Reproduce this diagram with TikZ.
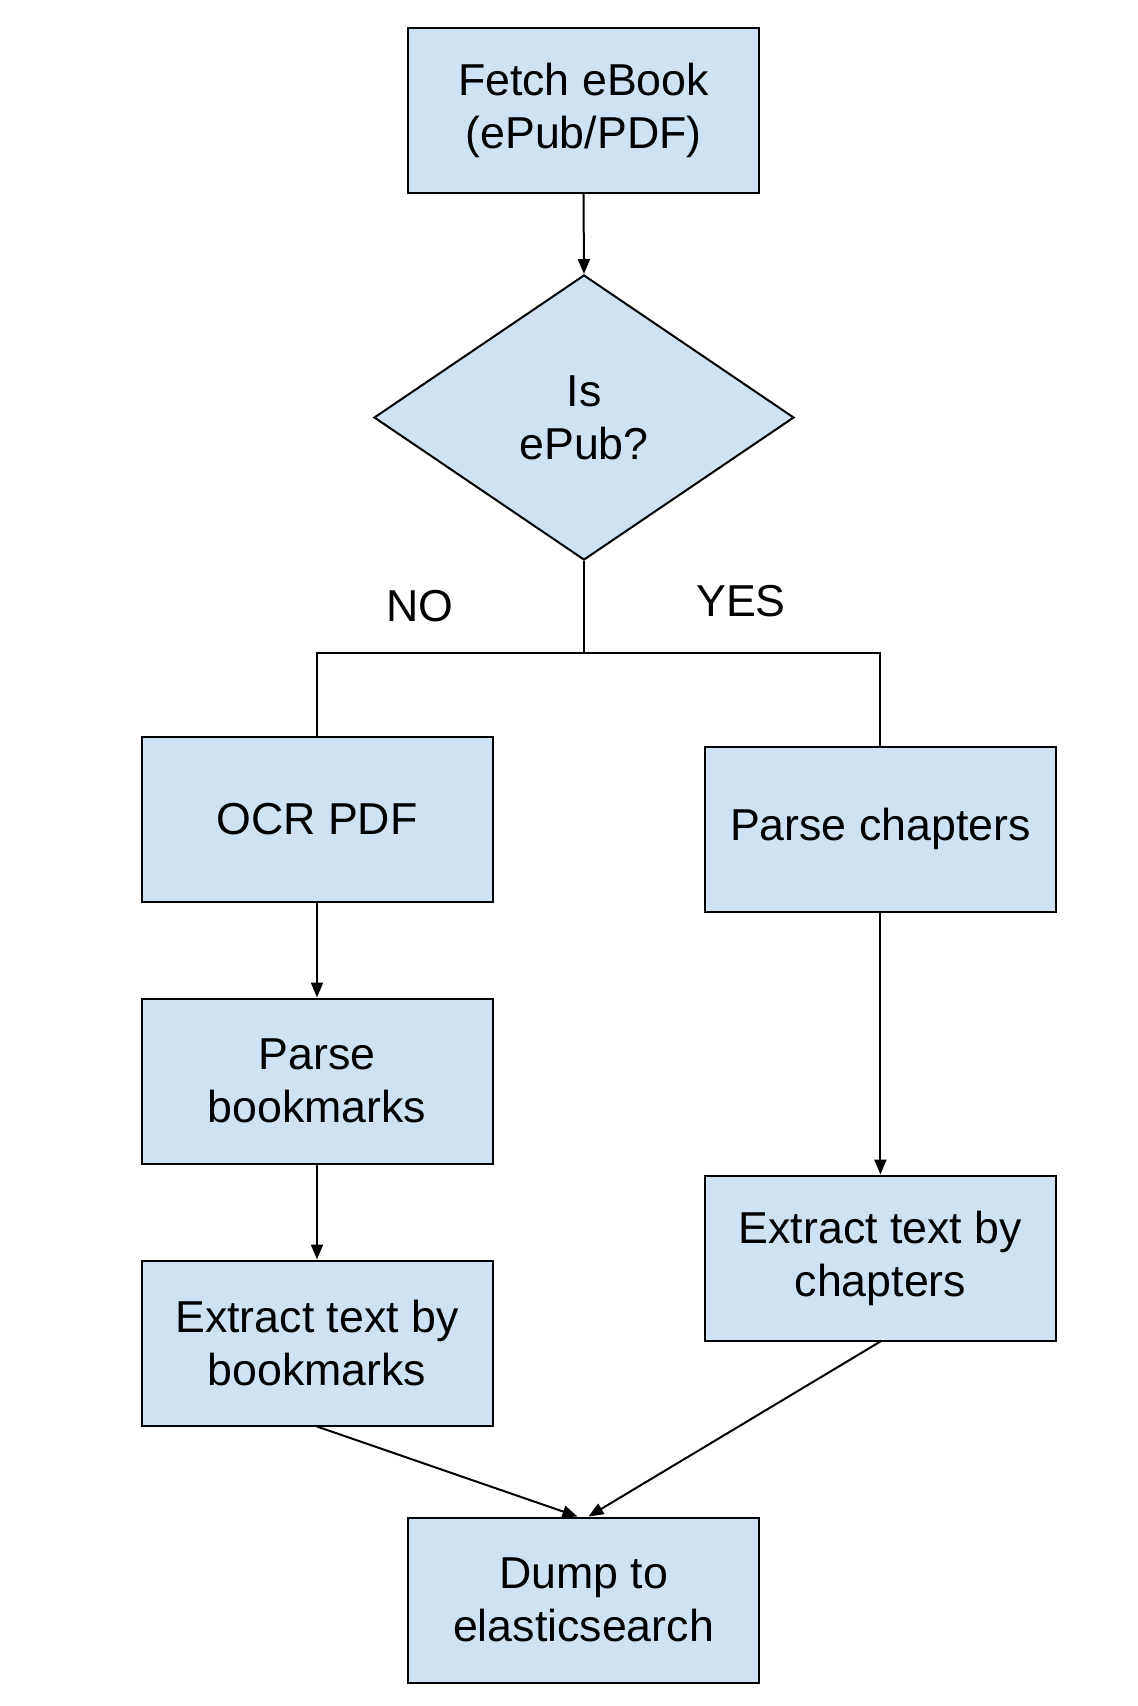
\documentclass[tikz,border=0pt]{standalone}
\usepackage{fontspec}
\setmainfont{Liberation Sans}
\usetikzlibrary{shapes.geometric,arrows.meta,calc}
\definecolor{boxfill}{HTML}{CFE2F3}
\begin{document}
\begin{tikzpicture}[x=1pt,y=-1pt,
  every node/.style={font=\fontsize{44.7}{53}\selectfont},
  procbox/.style={draw=black,line width=2pt,fill=boxfill,rectangle,minimum width=351pt,minimum height=165pt,align=center,inner sep=0pt},
  decbox/.style={draw=black,line width=2pt,fill=boxfill,diamond,minimum width=420pt,minimum height=285pt,align=center,inner sep=0pt},
  conn/.style={line width=2pt,draw=black},
  arr/.style={conn,-{Triangle[width=12pt,length=15pt]}},
  lbl/.style={inner sep=0pt}]
\useasboundingbox (0,0) rectangle (1138,1706);
\node[procbox] (fetch) at (583.5,110) {Fetch eBook\\(ePub/PDF)};
\node[decbox] (dec) at (584,417.5) {Is\\ePub?};
\node[procbox] (ocr) at (317,819) {OCR PDF};
\node[procbox] (pbm) at (317,1081) {Parse\\bookmarks};
\node[procbox] (ebm) at (317,1343) {Extract text by\\bookmarks};
\node[procbox] (pch) at (880.4,829) {Parse chapters};
\node[procbox] (ech) at (880.4,1258) {Extract text by\\chapters};
\node[procbox] (dump) at (583.5,1600) {Dump to\\elasticsearch};
\node[lbl] (no) at (420,606) {NO};
\node[lbl] (yes) at (741,601) {YES};
\coordinate (j) at (584,653);
\draw[arr] (fetch.south) -- (dec.north);
\draw[conn] (dec.south) -- (j) -| (ocr.north);
\draw[conn] (j) -| (pch.north);
\draw[arr] (ocr.south) -- (pbm.north);
\draw[arr] (pbm.south) -- (ebm.north);
\draw[arr] (pch.south) -- (ech.north);
\draw[arr] (ebm.south) -- ($(dump.north)+(-6,0)$);
\draw[arr] (ech.south) -- ($(dump.north)+(5,0)$);
\end{tikzpicture}
\end{document}
